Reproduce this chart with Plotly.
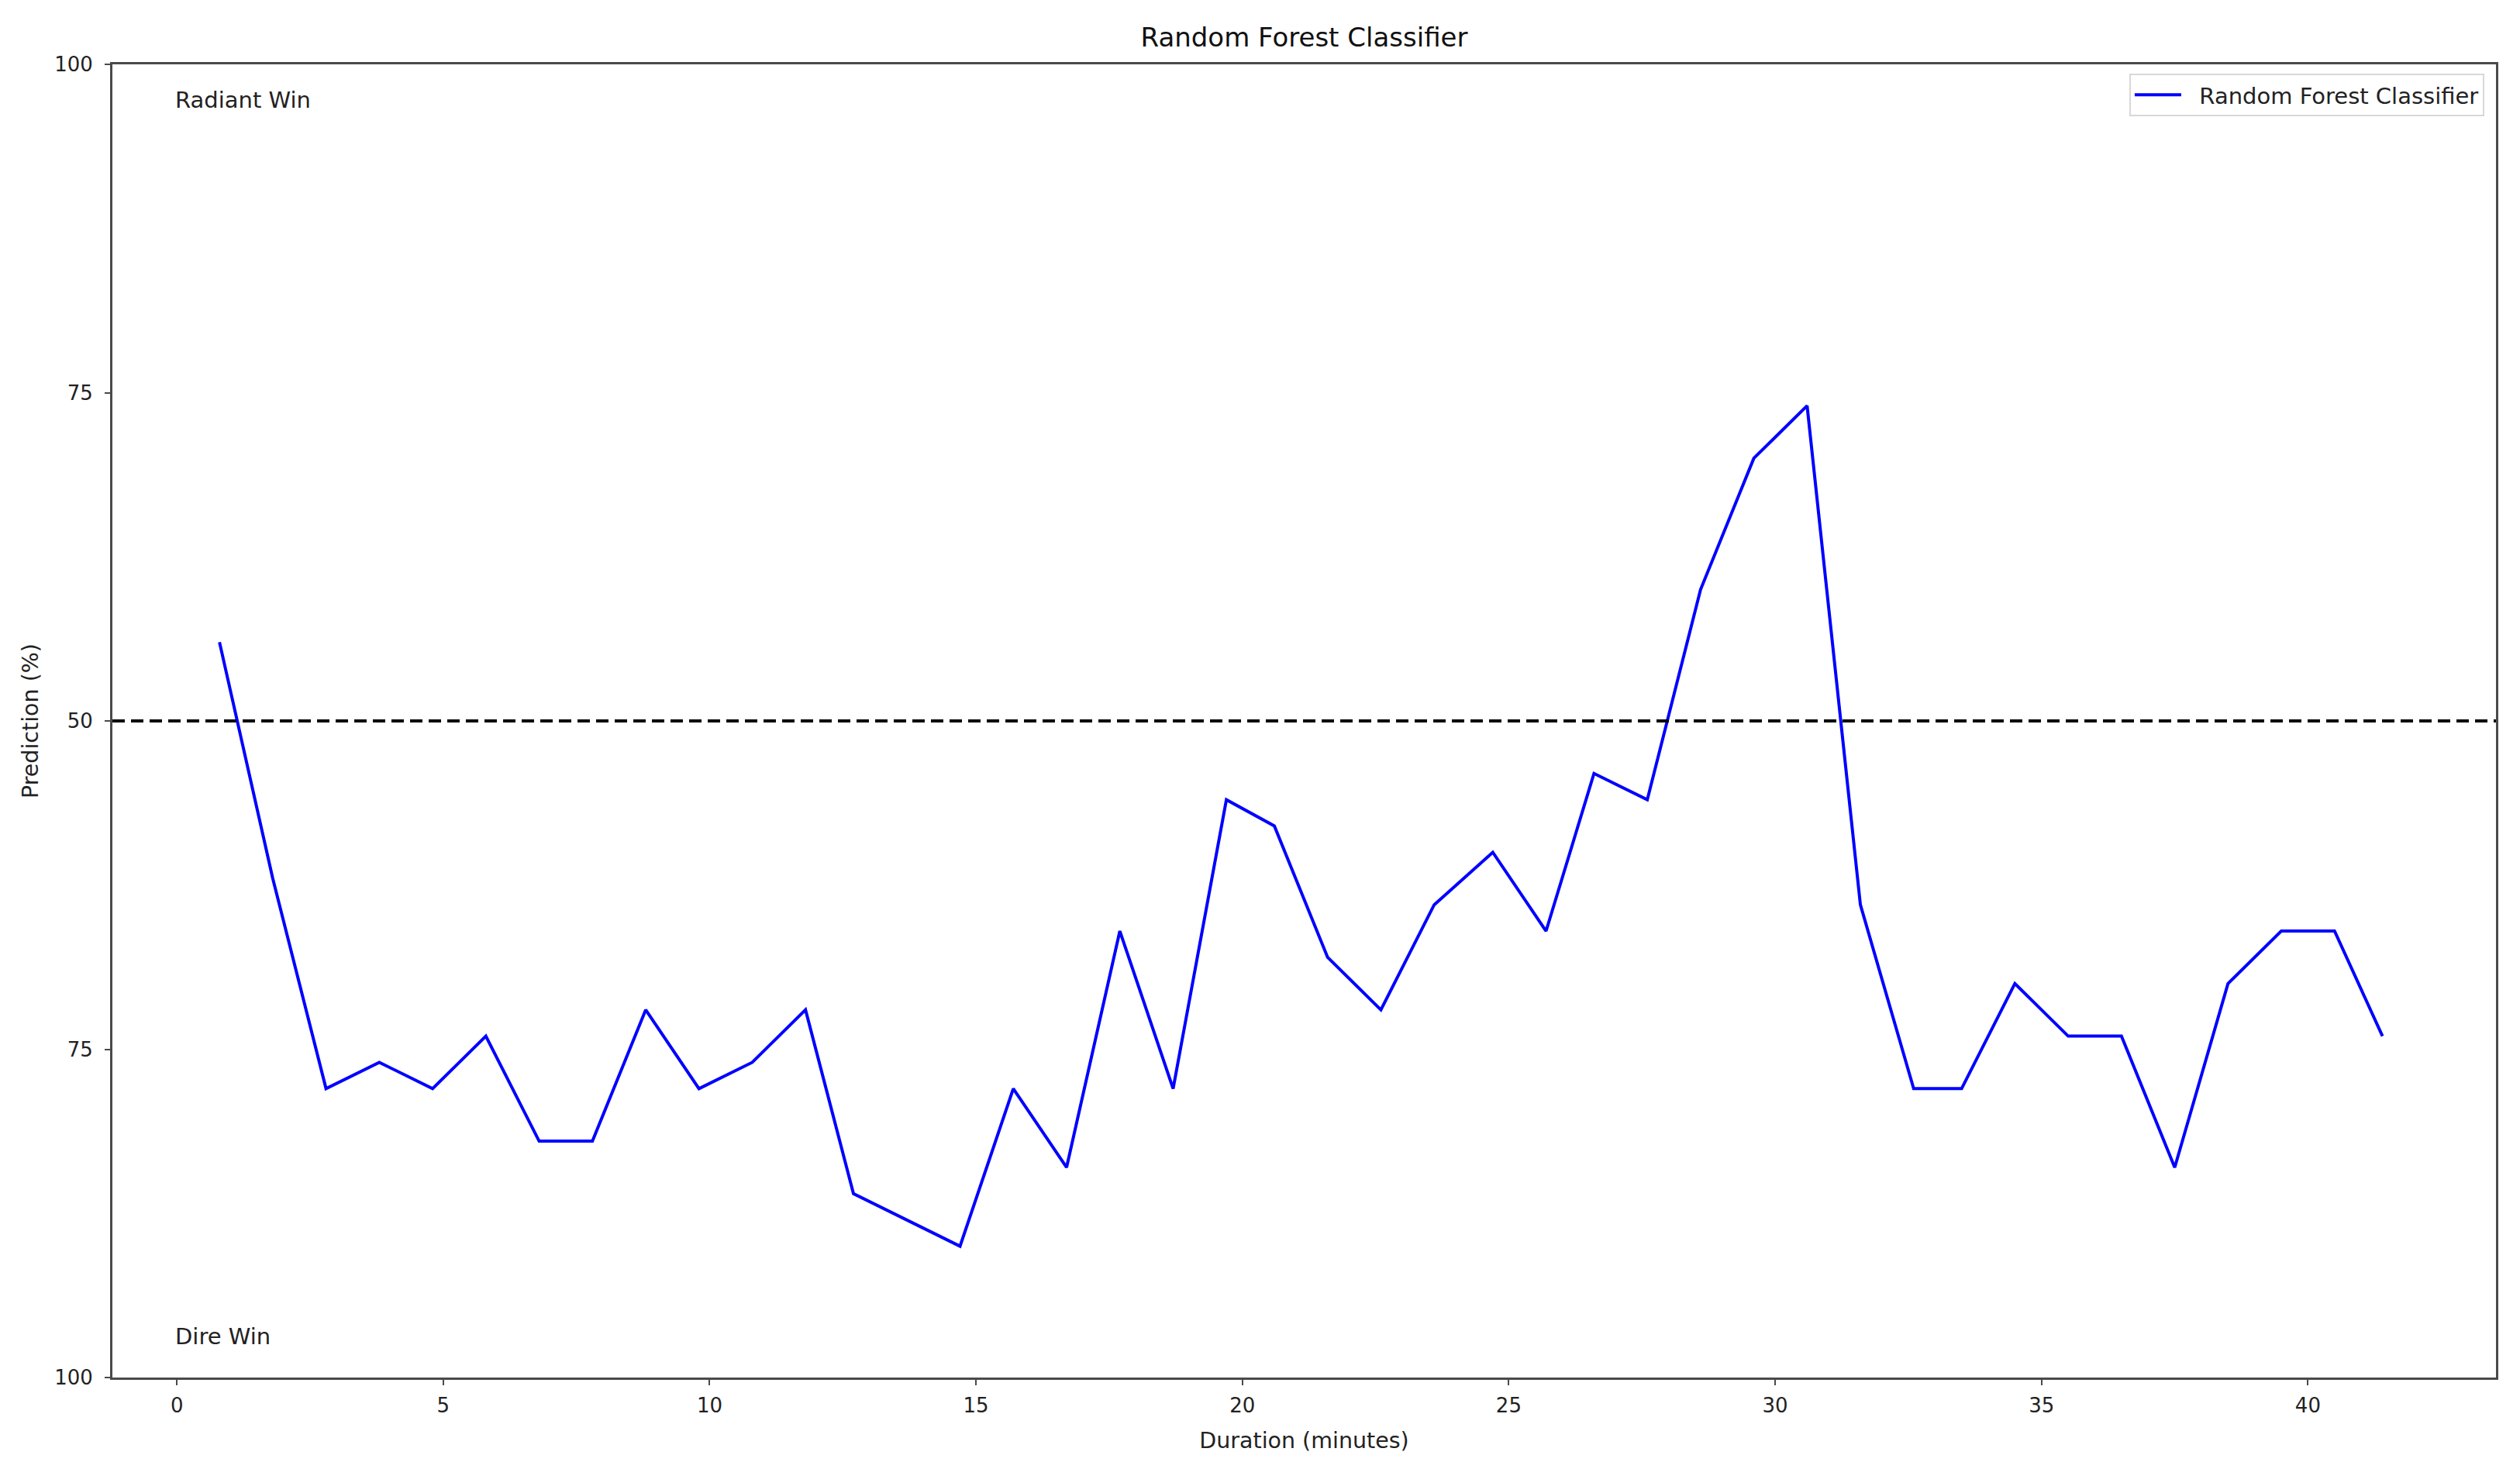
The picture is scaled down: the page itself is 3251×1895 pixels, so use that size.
import plotly.graph_objects as go

# Data
duration_min = [0.8, 1.8, 2.8, 3.8, 4.8, 5.8, 6.8, 7.8, 8.8, 9.8,
                10.8, 11.8, 12.7, 13.7, 14.7, 15.7, 16.7, 17.7, 18.7, 19.7,
                20.6, 21.6, 22.6, 23.6, 24.7, 25.7, 26.6, 27.6, 28.6, 29.6,
                30.6, 31.6, 32.6, 33.5, 34.5, 35.5, 36.5, 37.5, 38.5, 39.5,
                40.5, 41.4]
prediction = [56, 38, 22, 24, 22, 26, 18, 18, 28, 22,
              24, 28, 14, 12, 10, 22, 16, 34, 22, 44,
              42, 32, 28, 36, 40, 34, 46, 44, 60, 70,
              74, 36, 22, 22, 30, 26, 26, 16, 30, 34,
              34, 26]

x_ticks = [0, 5, 10, 15, 20, 25, 30, 35, 40]
y_tickvals = [100, 75, 50, 25, 0]
y_ticktext = ["100", "75", "50", "75", "100"]
threshold = 50
series_name = "\u00a0\u00a0Random Forest Classifier"
title_text = "Random Forest Classifier"

FONT = "DejaVu Sans"
# the page body has an 8px margin; compensate so the plot lands where the reference has it
W, H = 3243, 1887
L, R, T, B = 137, 31, 75, 118
TXT = "#222"
AX = "#4a4a4a"

fig = go.Figure()
fig.add_trace(go.Scatter(
    x=duration_min, y=prediction, mode="lines", name=series_name,
    line=dict(color="#0000FF", width=4),
))

fig.add_hline(y=threshold, line=dict(color="black", width=4, dash="16px,8px"))

fig.add_annotation(x=0, y=97.3, xref="x", yref="y", text="Radiant Win",
                   showarrow=False, xanchor="left", yanchor="middle", xshift=-4,
                   font=dict(family=FONT, size=29, color=TXT))
fig.add_annotation(x=0, y=3.1, xref="x", yref="y", text="Dire Win",
                   showarrow=False, xanchor="left", yanchor="middle", xshift=-4,
                   font=dict(family=FONT, size=29, color=TXT))

fig.update_layout(
    width=W, height=H, autosize=False,
    margin=dict(l=L, r=R, t=T, b=B),
    paper_bgcolor="white", plot_bgcolor="white",
    font=dict(family=FONT, size=26, color=TXT),
    title=dict(text=title_text, x=0.5, xref="paper", xanchor="center",
               y=1 - 40 / H, yref="container", yanchor="middle",
               font=dict(family=FONT, size=34, color="#111")),
    showlegend=True,
    legend=dict(x=0.9951, y=0.993, xanchor="right", yanchor="top",
                bgcolor="white", bordercolor="#d8d8d8", borderwidth=2,
                font=dict(family=FONT, size=29, color=TXT),
                itemwidth=60),
)

fig.update_xaxes(
    range=[-1.21, 43.53], tickvals=x_ticks, ticktext=[str(v) for v in x_ticks],
    showgrid=False, zeroline=False, showline=True, linecolor=AX, linewidth=3,
    mirror=True, ticks="outside", ticklen=7, tickwidth=2, tickcolor=AX,
    ticklabelstandoff=4,
    tickfont=dict(family=FONT, size=26, color=TXT),
    title=dict(text="Duration (minutes)", standoff=21,
               font=dict(family=FONT, size=28.5, color=TXT)),
)
fig.update_yaxes(
    range=[0, 100], tickvals=y_tickvals, ticktext=y_ticktext,
    showgrid=False, zeroline=False, showline=True, linecolor=AX, linewidth=3,
    mirror=True, ticks="outside", ticklen=7, tickwidth=2, tickcolor=AX,
    ticklabelstandoff=10,
    tickfont=dict(family=FONT, size=26, color=TXT),
    title=dict(text="Prediction (%)", standoff=13,
               font=dict(family=FONT, size=28.5, color=TXT)),
)

fig.write_html("out.html")
